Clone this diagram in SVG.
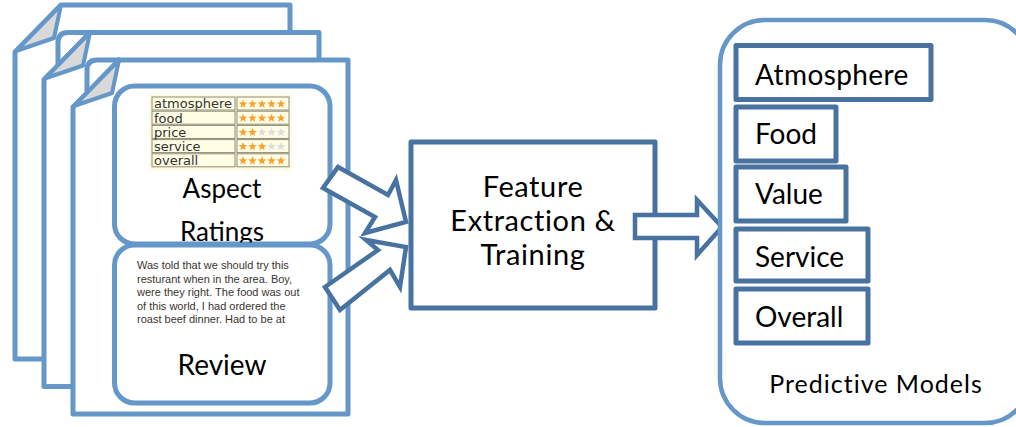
<svg xmlns="http://www.w3.org/2000/svg" width="1016" height="427" viewBox="0 0 1016 427">
<defs>
<style>
.page{fill:#fff;stroke:#6597c9;stroke-width:5;stroke-linejoin:round}
.fold{fill:#d9d9d9;stroke:#6597c9;stroke-width:4;stroke-linejoin:round}
.ln{fill:none;stroke:#6597c9;stroke-width:5;stroke-linecap:round}
.soft{fill:#fff;stroke:#6597c9;stroke-width:5}
.dark{fill:#fff;stroke:#48729f;stroke-width:5;stroke-linejoin:round}
.arrow{fill:#fff;stroke:#48729f;stroke-width:4.5;stroke-linejoin:miter}
.lbl{font-family:Lato,"Open Sans",sans-serif;fill:#000}
.tbl{font-family:"DejaVu Sans",Verdana,sans-serif;font-size:13px;fill:#333}
.rev{font-family:"Liberation Sans",Arial,sans-serif;font-size:11px;fill:#3a3530}
.cell{fill:#fffde4;stroke:#8e8c76;stroke-width:1}
.on{fill:#f7a133}
.off{fill:#dcdcdc}
</style>
<path id="star" d="M0,-4.6 L1.12,-1.54 L4.38,-1.42 L1.81,0.59 L2.7,3.72 L0,1.9 L-2.7,3.72 L-1.81,0.59 L-4.38,-1.42 L-1.12,-1.54 Z"/>
</defs>
<rect width="1016" height="427" fill="#fff"/>

<g id="documents">
  <g id="page1">
    <path class="page" d="M15,359 L15,52 L61,5 L290,5 L290,359 Z"/>
    <path class="fold" d="M16,51 L61,5 L54,38 Z"/>
  </g>
  <g id="page2" transform="translate(29,27.5)">
    <path class="page" d="M15,359 L15,52 L29,38 L29,15 Q29,5 39,5 L290,5 L290,359 Z"/>
    <path class="ln" d="M29,38 L61,5"/>
    <path class="fold" d="M16,51 L61,5 L54,38 Z"/>
  </g>
  <g id="page3" transform="translate(58,55)">
    <path class="page" d="M15,359 L15,52 L29,38 L29,15 Q29,5 39,5 L290,5 L290,359 Z"/>
    <path class="ln" d="M29,38 L61,5"/>
    <path class="fold" d="M16,51 L61,5 L54,38 Z"/>
  </g>
</g>

<g id="aspect-ratings">
  <rect class="soft" x="114.5" y="86" width="215.5" height="158" rx="20"/>
  <rect x="149" y="94" width="143" height="77" fill="#fdfbe2"/>
  <g>
    <rect class="cell" x="152" y="97" width="83" height="13"/>
    <rect class="cell" x="237" y="97" width="52" height="13"/>
    <rect class="cell" x="152" y="111.2" width="83" height="13"/>
    <rect class="cell" x="237" y="111.2" width="52" height="13"/>
    <rect class="cell" x="152" y="125.4" width="83" height="13"/>
    <rect class="cell" x="237" y="125.4" width="52" height="13"/>
    <rect class="cell" x="152" y="139.6" width="83" height="13"/>
    <rect class="cell" x="237" y="139.6" width="52" height="13"/>
    <rect class="cell" x="152" y="153.8" width="83" height="13"/>
    <rect class="cell" x="237" y="153.8" width="52" height="13"/>
  </g>
  <text class="tbl" x="154" y="108.3">atmosphere</text>
  <text class="tbl" x="154" y="122.5">food</text>
  <text class="tbl" x="154" y="136.7">price</text>
  <text class="tbl" x="154" y="150.9">service</text>
  <text class="tbl" x="154" y="165.1">overall</text>
  <g transform="translate(0,104)">
    <use href="#star" class="on" x="243"/><use href="#star" class="on" x="252.5"/><use href="#star" class="on" x="262"/><use href="#star" class="on" x="271.5"/><use href="#star" class="on" x="281"/>
  </g>
  <g transform="translate(0,118.2)">
    <use href="#star" class="on" x="243"/><use href="#star" class="on" x="252.5"/><use href="#star" class="on" x="262"/><use href="#star" class="on" x="271.5"/><use href="#star" class="on" x="281"/>
  </g>
  <g transform="translate(0,132.4)">
    <use href="#star" class="on" x="243"/><use href="#star" class="on" x="252.5"/><use href="#star" class="off" x="262"/><use href="#star" class="off" x="271.5"/><use href="#star" class="off" x="281"/>
  </g>
  <g transform="translate(0,146.6)">
    <use href="#star" class="on" x="243"/><use href="#star" class="on" x="252.5"/><use href="#star" class="on" x="262"/><use href="#star" class="off" x="271.5"/><use href="#star" class="off" x="281"/>
  </g>
  <g transform="translate(0,160.8)">
    <use href="#star" class="on" x="243"/><use href="#star" class="on" x="252.5"/><use href="#star" class="on" x="262"/><use href="#star" class="on" x="271.5"/><use href="#star" class="on" x="281"/>
  </g>
  <text class="lbl" x="222" y="198" font-size="26" text-anchor="middle">Aspect</text>
  <text class="lbl" x="222" y="241" font-size="26" text-anchor="middle">Ratings</text>
</g>

<g id="review">
  <rect class="soft" x="114.5" y="245" width="215.5" height="158" rx="20"/>
  <text class="rev" x="137" y="269">Was told that we should try this</text>
  <text class="rev" x="137" y="282.5">resturant when in the area. Boy,</text>
  <text class="rev" x="137" y="296">were they right. The food was out</text>
  <text class="rev" x="137" y="309.5">of this world, I had ordered the</text>
  <text class="rev" x="137" y="323">roast beef dinner. Had to be at</text>
  <text class="lbl" x="222" y="375" font-size="28" text-anchor="middle">Review</text>
</g>

<g id="feature-extraction">
  <rect class="dark" x="411" y="142" width="244" height="166"/>
  <text class="lbl" font-size="29" letter-spacing="0.6" text-anchor="middle"><tspan x="533" y="197">Feature</tspan><tspan x="533" y="231">Extraction &amp;</tspan><tspan x="533" y="265">Training</tspan></text>
</g>

<g id="connectors">
  <path class="arrow" d="M338,167 L388,195 L396,180 L406,222 L365,233 L375,217 L323,188 Z"/>
  <path class="arrow" d="M325,287 L378,250 L366,240 L406,247 L400,287 L390,270 L340,310 Z"/>
  <path class="arrow" d="M635,215 L697,215 L697,200 L722,227 L697,255 L697,238 L635,238 Z"/>
</g>

<g id="predictive-models">
  <rect x="720" y="20" width="310" height="403" rx="45" fill="#fff" stroke="#6597c9" stroke-width="4.5"/>
  <g id="atmosphere">
    <rect class="dark" x="736" y="45.5" width="195" height="54"/>
    <text class="lbl" x="755" y="85" font-size="28" letter-spacing="0.4">Atmosphere</text>
  </g>
  <g id="food">
    <rect class="dark" x="736" y="107" width="100" height="54"/>
    <text class="lbl" x="755" y="144" font-size="28">Food</text>
  </g>
  <g id="value">
    <rect class="dark" x="736" y="167" width="110" height="54"/>
    <text class="lbl" x="755" y="204" font-size="28">Value</text>
  </g>
  <g id="service">
    <rect class="dark" x="736" y="229" width="132" height="52"/>
    <text class="lbl" x="755" y="267" font-size="28">Service</text>
  </g>
  <g id="overall">
    <rect class="dark" x="736" y="289" width="132" height="54"/>
    <text class="lbl" x="755" y="327" font-size="28">Overall</text>
  </g>
  <text class="lbl" x="876" y="393" font-size="25" letter-spacing="1" text-anchor="middle">Predictive Models</text>
</g>
</svg>
